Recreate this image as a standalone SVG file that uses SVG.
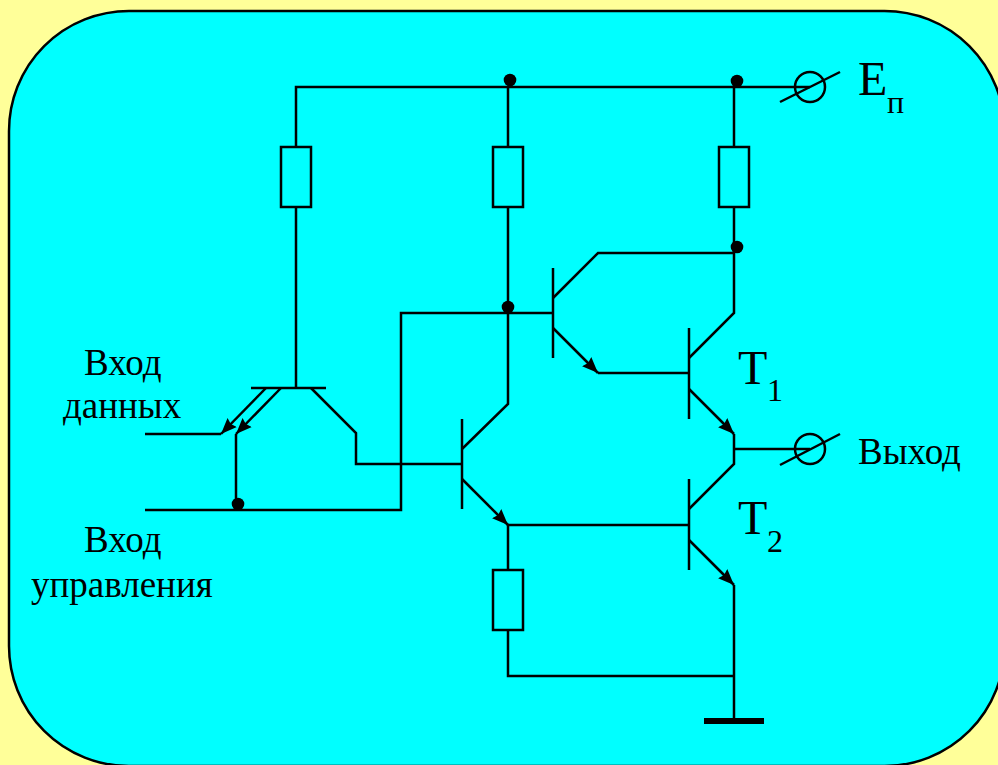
<svg xmlns="http://www.w3.org/2000/svg" width="998" height="765" viewBox="0 0 998 765">
<style>
.w{fill:none;stroke:#000;stroke-width:2.5;stroke-linejoin:miter}
.r{fill:#00ffff;stroke:#000;stroke-width:2.5}
.c{fill:none;stroke:#000;stroke-width:2.5}
.d{fill:#000;stroke:none}
.t{font-family:"Liberation Serif","Times New Roman",serif;fill:#000}
.l{font-size:37px}
.s{font-size:32px}
.b{font-size:48px}
</style>
<defs>
<marker id="a" markerUnits="userSpaceOnUse" markerWidth="18" markerHeight="14" refX="16" refY="7" orient="auto"><path d="M0 0.5L16 7L0 13.5L2 7Z" fill="#000"/></marker>
</defs>
<rect x="0" y="0" width="998" height="765" fill="#ffff99"/>
<rect id="panel" x="9" y="11" width="995.5" height="755" rx="120" ry="120" fill="#00ffff" stroke="#000" stroke-width="2.5"/>
<g id="connectors">
<path class="w" d="M296 388V87H810"/>
<path class="w" d="M508 87V404L462 449"/>
<path class="w" d="M734 87V253"/>
<path class="w" d="M734 253H598L553 298"/>
<path class="w" d="M734 253V313L689 358"/>
<path class="w" d="M145 510H401V313H553"/>
<path class="w" d="M145 434H221"/>
<path class="w" d="M236 434V510"/>
<path class="w" d="M311 388L356 433V464H462"/>
<path class="w" d="M598 373H689"/>
<path class="w" d="M734 434V464L689 509"/>
<path class="w" d="M734 449H810"/>
<path class="w" d="M508 525H689"/>
<path class="w" d="M508 525V676H734"/>
<path class="w" d="M734 585V720"/>
<path class="w" marker-end="url(#a)" d="M266 388L221 434"/>
<path class="w" marker-end="url(#a)" d="M281 388L236 434"/>
<path class="w" marker-end="url(#a)" d="M553 328L598 373"/>
<path class="w" marker-end="url(#a)" d="M689 389L734 434"/>
<path class="w" marker-end="url(#a)" d="M462 479L508 525"/>
<path class="w" marker-end="url(#a)" d="M689 540L734 585"/>
</g>
<g id="T-multi"><path class="w" d="M251 388H326"/></g>
<g id="T-mid"><path class="w" d="M462 419V509"/></g>
<g id="T-upper"><path class="w" d="M553 268V358"/></g>
<g id="T1"><path class="w" d="M689 328V419"/><text class="t b" x="738" y="384">T</text><text class="t s" x="767" y="401">1</text></g>
<g id="T2"><path class="w" d="M689 479V570"/><text class="t b" x="738" y="534">T</text><text class="t s" x="767" y="552">2</text></g>
<g id="R1"><rect class="r" x="281" y="147" width="30" height="60"/></g>
<g id="R2"><rect class="r" x="493" y="147" width="30" height="60"/></g>
<g id="R3"><rect class="r" x="719" y="147" width="30" height="60"/></g>
<g id="R4"><rect class="r" x="493" y="570" width="30" height="60"/></g>
<g id="dots">
<circle class="d" cx="510" cy="80" r="6.3"/>
<circle class="d" cx="737" cy="81" r="6.3"/>
<circle class="d" cx="737" cy="247" r="6.3"/>
<circle class="d" cx="508" cy="307" r="6.3"/>
<circle class="d" cx="238" cy="504" r="6.3"/>
</g>
<g id="ground"><rect class="d" x="704" y="718" width="60" height="6"/></g>
<g id="term-power"><circle class="c" cx="810" cy="87" r="15"/><path class="w" d="M780 102L840 72"/><text class="t b" x="858" y="95">E</text><text class="t s" x="887" y="113">п</text></g>
<g id="term-out"><circle class="c" cx="810" cy="449" r="15"/><path class="w" d="M780 465L840 434"/><text class="t l" x="858" y="464">Выход</text></g>
<g id="in-data"><text class="t l" x="84" y="375">Вход</text><text class="t l" x="63" y="418">данных</text></g>
<g id="in-ctl"><text class="t l" x="84" y="552">Вход</text><text class="t l" x="31" y="597">управления</text></g>
</svg>
